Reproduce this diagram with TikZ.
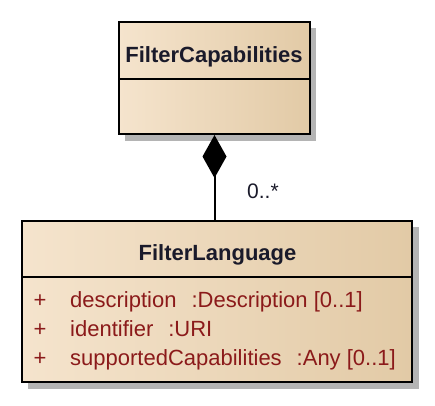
\documentclass[tikz,border=0pt]{standalone}
\usepackage{fontspec}
\setmainfont{Liberation Sans}
\usetikzlibrary{arrows.meta,calc}
\definecolor{boxleft}{HTML}{F5E4CD}
\definecolor{boxmid}{HTML}{F9EDDD}
\definecolor{boxright}{HTML}{E2CAA6}
\definecolor{attrred}{HTML}{8B1A1A}
\definecolor{titleink}{HTML}{1A1A2A}
\definecolor{shadowgray}{HTML}{B4B4B4}
\tikzset{
  umlbox/.style={rectangle, draw=black, line width=2pt, inner sep=0pt,
    left color=boxleft, middle color=boxmid, right color=boxright, shading angle=90},
  boxshadow/.style={fill=shadowgray, draw=none},
  divider/.style={draw=black, line width=2pt},
  umltitle/.style={anchor=base, inner sep=0pt, text=titleink,
    font=\fontsize{22}{26}\selectfont\bfseries},
  attr/.style={anchor=base west, inner sep=0pt, text=attrred,
    font=\fontsize{22}{26}\selectfont},
  vis/.style={anchor=base, inner sep=0pt, text=attrred,
    font=\fontsize{22}{26}\selectfont},
  mult/.style={anchor=base west, inner sep=0pt, text=titleink,
    font=\fontsize{21}{25}\selectfont},
  composition/.style={line width=2pt, {Diamond[length=43pt,width=24pt,fill=black]}-}
}
\begin{document}
\begin{tikzpicture}[x=1pt,y=-1pt]
\useasboundingbox (0,0) rectangle (435,405);
% shadows
\fill[boxshadow] (125,28) rectangle (316,141);
\fill[boxshadow] (28,227) rectangle (419,389);
% boxes
\node[umlbox, minimum width=191pt, minimum height=112pt] (fc) at (214.5,78) {};
\node[umlbox, minimum width=390pt, minimum height=161pt] (fl) at (217,301.5) {};
% dividers
\draw[divider] ($(fc.north west)+(0,58)$) -- ($(fc.north east)+(0,58)$);
\draw[divider] ($(fl.north west)+(0,57)$) -- ($(fl.north east)+(0,57)$);
% titles
\node[umltitle] (fctitle) at (214,62) {FilterCapabilities};
\node[umltitle] (fltitle) at (217.5,260) {FilterLanguage};
% attributes
\node[vis] (v1) at (40,307) {+};
\node[vis] (v2) at (40,336) {+};
\node[vis] (v3) at (40,365) {+};
\node[attr] (a1) at (70,307) {description\hspace{15pt}:Description [0..1]};
\node[attr] (a2) at (70,336) {identifier\hspace{15pt}:URI};
\node[attr] (a3) at (70,365) {supportedCapabilities\hspace{15pt}:Any [0..1]};
% connector
\draw[composition] (fc.south) -- (fc.south |- fl.north);
\node[mult] (m) at (247,198) {0..*};
\end{tikzpicture}
\end{document}
